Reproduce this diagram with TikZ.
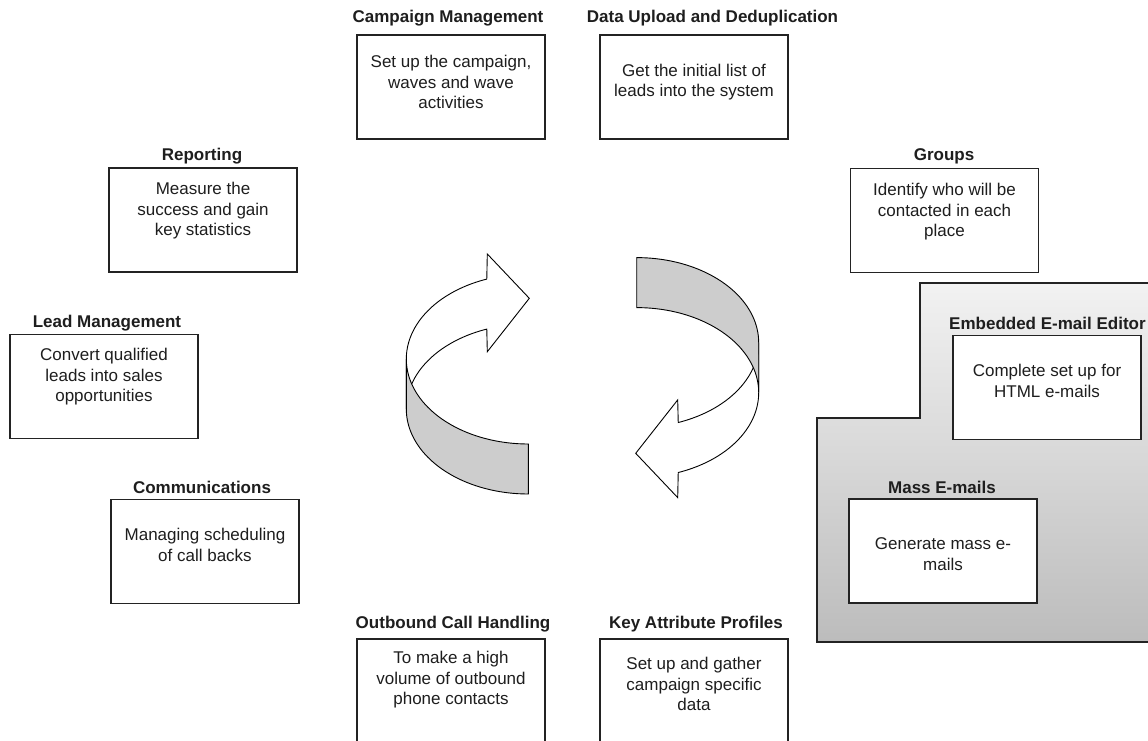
\documentclass[tikz,border=0pt]{standalone}
\usepackage{fontspec}
\setmainfont{Liberation Sans}
\definecolor{bandgray}{RGB}{205,205,205}
\definecolor{edge}{RGB}{35,35,35}
\definecolor{txt}{RGB}{30,30,30}
\definecolor{regtop}{RGB}{242,242,242}
\definecolor{regbot}{RGB}{188,188,188}
\begin{document}
\begin{tikzpicture}[x=1pt,y=-1pt,
  box/.style={draw=edge, line width=1.2pt, fill=white, inner sep=0pt, minimum width=188pt, minimum height=104pt},
  ttl/.style={font=\bfseries\fontsize{17}{20}\selectfont, text=txt, inner sep=0pt},
  bdy/.style={font=\fontsize{17}{20.5}\selectfont, align=center, text=txt, inner sep=0pt},
  arrowline/.style={draw=black, line width=0.9pt, line join=miter}]
\useasboundingbox (0,0) rectangle (1148,741);
\clip (0,0) rectangle (1148,741);
\fill[white] (0,0) rectangle (1148,741);

% shaded e-mail region
\path[draw=edge, line width=1.1pt, top color=regtop, bottom color=regbot]
  (920,283) -- (1160,283) -- (1160,642) -- (817,642) -- (817,418) -- (920,418) -- cycle;

% boxes
\node[box] (campbox) at (451,87) {};
\node[box] (databox) at (694,87) {};
\node[box] (repbox) at (203,220) {};
\node[box] (grpbox) at (944.5,220.5) {};
\node[box] (leadbox) at (104,386.5) {};
\node[box] (embbox) at (1047,387.5) {};
\node[box] (combox) at (205,551.5) {};
\node[box] (massbox) at (943,551) {};
\node[box] (outbox) at (451,691) {};
\node[box] (keybox) at (694,691) {};

% titles
\node[ttl] (campt) at (448,18) {Campaign Management};
\node[ttl] (datat) at (712.5,18) {Data Upload and Deduplication};
\node[ttl] (rept) at (202,156) {Reporting};
\node[ttl] (grpt) at (944,156) {Groups};
\node[ttl] (leadt) at (107,323) {Lead Management};
\node[ttl, anchor=west] (embt) at (949,323) {Embedded E-mail Editor};
\node[ttl] (comt) at (202,487) {Communications};
\node[ttl] (masst) at (942,487) {Mass E-mails};
\node[ttl] (outt) at (453,624) {Outbound Call Handling};
\node[ttl] (keyt) at (696,624) {Key Attribute Profiles};

% body texts
\node[bdy] (campb) at (451,82) {Set up the campaign,\\waves and wave\\activities};
\node[bdy] (datab) at (694,82) {Get the initial list of\\leads into the system};
\node[bdy] (repb) at (203,211) {Measure the\\success and gain\\key statistics};
\node[bdy] (grpb) at (944.5,212) {Identify who will be\\contacted in each\\place};
\node[bdy] (leadb) at (104,377) {Convert qualified\\leads into sales\\opportunities};
\node[bdy] (embb) at (1047,381) {Complete set up for\\HTML e-mails};
\node[bdy] (comb) at (205,545) {Managing scheduling\\of call backs};
\node[bdy] (massb) at (943,554) {Generate mass e-\\mails};
\node[bdy] (outb) at (451,680) {To make a high\\volume of outbound\\phone contacts};
\node[bdy] (keyb) at (694,684) {Set up and gather\\campaign specific\\data};

% circular arrows
\foreach \rot in {0,180}{
\begin{scope}[rotate around={\rot:(582.5,375.8)}]
\draw[arrowline, fill=white] (406.3,359)
  -- plot[domain=180:250.1, samples=40] ({528.3+122*cos(\x)},{359+85*sin(\x)})
  -- (487.3,254) -- (529.3,298.3) -- (487.3,351.7)
  -- plot[domain=250.1:180, samples=40] ({528.3+122*cos(\x)},{409+85*sin(\x)})
  -- cycle;
\draw[arrowline, fill=bandgray] (406.3,359)
  -- plot[domain=180:90, samples=40] ({528.3+122*cos(\x)},{359+85*sin(\x)})
  -- (528.3,494)
  -- plot[domain=90:180, samples=40] ({528.3+122*cos(\x)},{409+85*sin(\x)})
  -- cycle;
\end{scope}}
\end{tikzpicture}
\end{document}
